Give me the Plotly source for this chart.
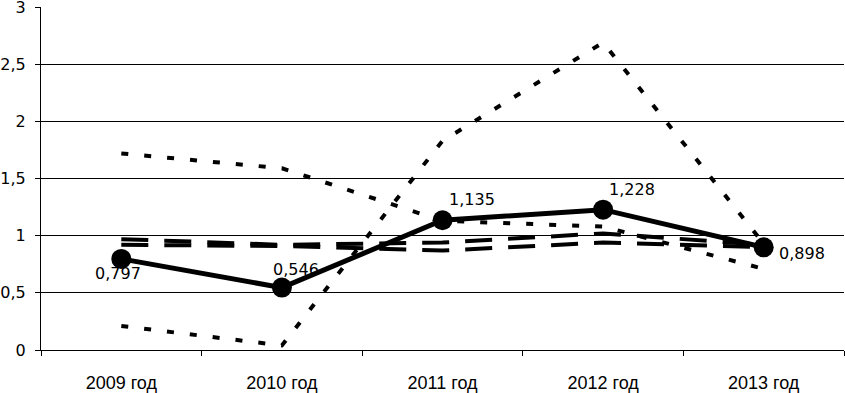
import plotly.graph_objects as go

years = ["2009 год", "2010 год", "2011 год", "2012 год", "2013 год"]
main_vals = [0.797, 0.546, 1.135, 1.228, 0.898]
main_labels = ["0,797", "0,546", "1,135", "1,228", "0,898"]
dot_low = [0.21, 0.04, 1.83, 2.69, 0.93]
dot_high = [1.72, 1.59, 1.13, 1.08, 0.71]
dash_a = [0.97, 0.92, 0.94, 1.02, 0.92]
dash_b = [0.92, 0.91, 0.87, 0.94, 0.90]
y_ticks = [0, 0.5, 1, 1.5, 2, 2.5, 3]
y_tick_text = ["0", "0,5", "1", "1,5", "2", "2,5", "3"]

# label offsets in pixels (style only)
label_shift = [(-3, -15), (14, 18), (29, 21), (29, 20), (38, -6)]

fig = go.Figure()
dotted = "7px,16px"
dashed = "27px,16px"
for vals, dash in [(dot_low, dotted), (dot_high, dotted), (dash_a, dashed), (dash_b, dashed)]:
    fig.add_trace(go.Scatter(x=years, y=vals, mode="lines",
                             line=dict(color="black", width=4, dash=dash),
                             showlegend=False, hoverinfo="skip", cliponaxis=False))
fig.add_trace(go.Scatter(x=years, y=main_vals, mode="lines+markers",
                         line=dict(color="black", width=5),
                         marker=dict(color="black", size=20),
                         showlegend=False, cliponaxis=False))
for yr, v, t, (dx, dy) in zip(years, main_vals, main_labels, label_shift):
    fig.add_annotation(x=yr, y=v, text=t, showarrow=False, xshift=dx, yshift=dy,
                       font=dict(family="DejaVu Sans", size=16, color="black"))

fig.update_layout(
    width=845, height=393,
    margin=dict(l=41, r=1, t=7, b=43),
    plot_bgcolor="white", paper_bgcolor="white",
    font=dict(family="DejaVu Sans", size=16, color="black"),
)
fig.update_xaxes(type="category", range=[-0.5, 4.5], showline=True, linecolor="black",
                 linewidth=1, ticks="outside", tickson="boundaries", ticklen=5,
                 tickcolor="black", showgrid=False, automargin=False,
                 tickfont=dict(family="Liberation Sans, Arial, sans-serif", size=18),
                 ticklabelstandoff=16)
fig.update_yaxes(range=[0, 3.001], tickvals=y_ticks, ticktext=y_tick_text,
                 showline=True, linecolor="black", linewidth=1, automargin=False,
                 ticks="outside", ticklen=5, tickcolor="black",
                 showgrid=True, gridcolor="black", gridwidth=1, zeroline=False,
                 ticklabeloverflow="allow",
                 tickfont=dict(family="DejaVu Sans", size=16), ticklabelstandoff=6)

fig.write_html("out.html", config={"displayModeBar": False})
with open("out.html", encoding="utf-8") as f:
    html = f.read()
html = html.replace("<head>", "<head><style>html,body{margin:0;padding:0;overflow:hidden;}</style>", 1)
with open("out.html", "w", encoding="utf-8") as f:
    f.write(html)
